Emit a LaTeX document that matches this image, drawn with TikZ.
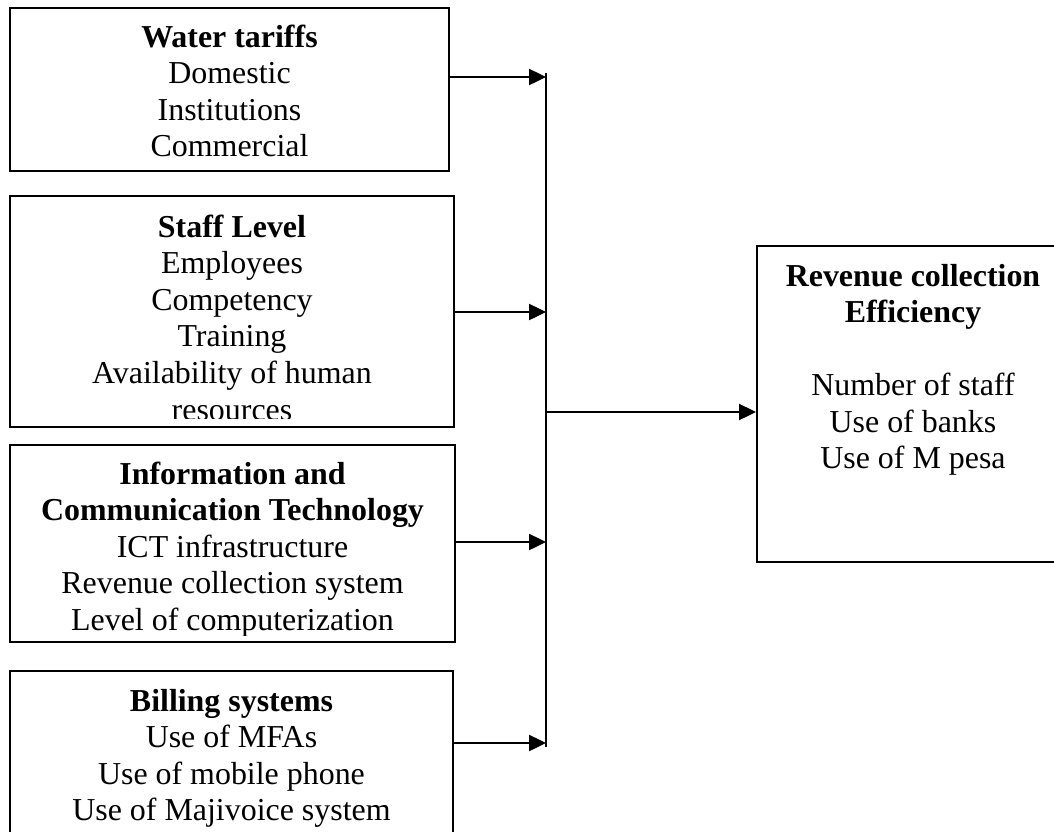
\documentclass[tikz,border=0pt]{standalone}
\usepackage{fontspec}
\setmainfont{Liberation Serif}
\usetikzlibrary{arrows.meta,positioning}
\tikzset{
  factor/.style={draw, line width=1.4pt, inner sep=0pt},
  factortext/.style={align=center, inner sep=0pt,
                     font=\fontsize{22.7}{26}\selectfont},
  link/.style={line width=1pt, -{Triangle[length=12pt, width=11.5pt]}},
}

\begin{document}
\begin{tikzpicture}[x=0.025cm, y=-0.025cm]
    \useasboundingbox (0,0) rectangle (1054,831);
    \clip (0,0) rectangle (1054,831);
    % independent variables on the left
    \node[factor, minimum width=10.975cm, minimum height=4.075cm] (wt) at (229.5,89.5) {};
    \node[factor, minimum width=11.1cm, minimum height=5.775cm] (sl) at (232,311.5) {};
    \node[factor, minimum width=11.125cm, minimum height=4.925cm] (ict) at (232.5,543.5) {};
    \node[factor, minimum width=11.075cm, minimum height=5.225cm] (bs) at (231.5,775.5) {};
    % dependent variable on the right
    \node[factor, minimum width=7.8cm, minimum height=7.9cm] (rce) at (913,404) {};

    \node[factortext, below=0.36cm of wt.north] (wtt)
      {\strut\textbf{Water tariffs}\\Domestic\\Institutions\\Commercial};
    \begin{scope}
      \clip (sl.north west) rectangle ([yshift=0.25cm]sl.south east);
      \node[factortext, below=0.41cm of sl.north] (slt)
        {\strut\textbf{Staff Level}\\Employees\\Competency\\Training\\Availability of human\\resources};
    \end{scope}
    \begin{scope}
      \clip (ict.north west) rectangle ([yshift=0.2cm]ict.south east);
      \node[factortext, below=0.36cm of ict.north] (ictt)
        {\strut\textbf{Information and}\\\textbf{Communication Technology}\\ICT infrastructure\\Revenue collection system\\Level of computerization};
    \end{scope}
    \node[factortext, below=0.38cm of bs.north] (bst)
      {\strut\textbf{Billing systems}\\Use of MFAs\\Use of mobile phone\\Use of Majivoice system};
    \node[factortext, below=0.38cm of rce.north] (rcet)
      {\strut\textbf{Revenue collection}\\\textbf{Efficiency}\\[26pt]Number of staff\\Use of banks\\Use of M pesa};

    % collecting line
    \coordinate (bustop) at (546,73);
    \coordinate (busbot) at (546,747);
    \coordinate (in1) at (546,77);
    \coordinate (in2) at (546,312);
    \coordinate (in3) at (546,542);
    \coordinate (in4) at (546,743);
    \coordinate (out) at (546,412);
    \draw[line width=1pt] (bustop) -- (busbot);
    \draw[link] (wt.east |- in1) -- (in1);
    \draw[link] (sl.east |- in2) -- (in2);
    \draw[link] (ict.east |- in3) -- (in3);
    \draw[link] (bs.east |- in4) -- (in4);
    \draw[link] (out) -- (out -| rce.west);
\end{tikzpicture}
\end{document}
